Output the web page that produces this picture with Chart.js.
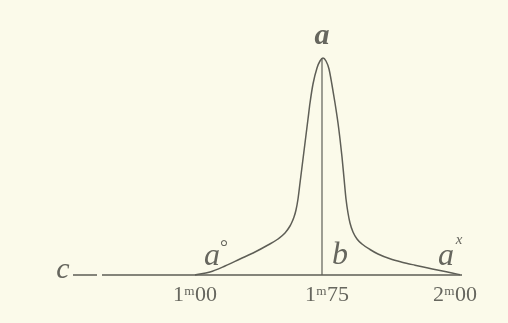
<!DOCTYPE html>
<html>
<head>
<meta charset="utf-8">
<script src="https://cdn.jsdelivr.net/npm/chart.js@4.4.0/dist/chart.umd.min.js"></script>
<style>
  html, body { margin: 0; padding: 0; background: #fbfaea; }
  #wrap { width: 508px; height: 323px; }
</style>
</head>
<body>
<div id="wrap"><canvas id="fig"></canvas></div>
<script>
// positions along the figure (x) and height above the ground line (y)
const curveX = [195, 210, 225, 240, 255, 268, 278, 285, 290, 292, 294, 296, 298, 300, 302, 304, 306, 308, 310, 313, 317, 320, 323,
                326, 329, 332, 335, 338, 340, 342, 344, 346, 348, 350, 353, 357, 362, 370, 378, 390, 402, 415, 428, 440, 452, 460];
const curveY = [0, 3, 9, 16, 23, 30, 36, 42, 49, 53, 58, 65, 76, 92, 108, 124, 140, 156, 172, 191, 207, 214, 217,
                214, 206, 190, 172, 152, 136, 118, 97, 76, 62, 52, 43, 36, 31, 25.5, 21, 16.2, 12.8, 9.8, 7, 4.4, 2, 0.3];
const groundX = [73, 97, 102, 462];
const groundY = [0, 0, 0, 0];
const axisX = [322, 322];
const axisY = [0, 217];
const tickValues = [195, 327, 455];
const tickLabels = ['1ᵐ00', '1ᵐ75', '2ᵐ00'];

// letters written on the figure
const letters = [
    { text: 'a', x: 322, y: 239, bold: true, size: 30 },
    { text: 'c', x: 63, y: 5, size: 30 },
    { text: 'a', x: 212, y: 18, size: 32 },
    { text: '°', x: 224, y: 26, size: 20, plain: true },
    { text: 'b', x: 340, y: 19, size: 32 },
    { text: 'a', x: 446, y: 18, size: 32 },
    { text: 'x', x: 459, y: 35, size: 15 }
];

const ink = '#5e5e56';
const toPts = (xs, ys) => xs.map((x, i) => ({ x: x, y: ys[i] }));

const letterPlugin = {
    id: 'letters',
    afterDatasetsDraw(chart) {
        const ctx = chart.ctx;
        const sx = chart.scales.x, sy = chart.scales.y;
        ctx.save();
        ctx.fillStyle = '#66665e';
        ctx.textAlign = 'center';
        ctx.textBaseline = 'middle';
        letters.forEach(l => {
            const style = l.plain ? '' : 'italic ';
            ctx.font = style + (l.bold ? 'bold ' : '') + l.size + 'px "Liberation Serif", "DejaVu Serif", serif';
            ctx.fillText(l.text, sx.getPixelForValue(l.x), sy.getPixelForValue(l.y));
        });
        ctx.restore();
    }
};

// ground line has a small break near c
const groundPts = toPts(groundX, groundY);
groundPts.splice(2, 0, { x: 99, y: null });

new Chart(document.getElementById('fig'), {
    type: 'scatter',
    data: {
        datasets: [
            {
                data: toPts(curveX, curveY),
                showLine: true,
                borderColor: ink,
                borderWidth: 1.5,
                pointRadius: 0,
                cubicInterpolationMode: 'monotone'
            },
            {
                data: groundPts,
                showLine: true,
                spanGaps: false,
                borderColor: ink,
                borderWidth: 1.3,
                pointRadius: 0
            },
            {
                data: toPts(axisX, axisY),
                showLine: true,
                borderColor: ink,
                borderWidth: 1.2,
                pointRadius: 0
            }
        ]
    },
    options: {
        responsive: true,
        maintainAspectRatio: false,
        animation: false,
        layout: { padding: 0 },
        plugins: {
            legend: { display: false },
            tooltip: { enabled: false }
        },
        scales: {
            x: {
                type: 'linear',
                min: 0,
                max: 508,
                position: { y: 0 },
                grid: { display: false, drawTicks: false },
                border: { display: false },
                afterBuildTicks: (scale) => {
                    scale.ticks = tickValues.map(v => ({ value: v }));
                },
                ticks: {
                    padding: 7,
                    color: '#66665e',
                    font: { family: '"Liberation Serif", "DejaVu Serif", serif', size: 22 },
                    callback: (v) => tickLabels[tickValues.indexOf(v)]
                }
            },
            y: {
                display: false,
                min: -48,
                max: 275
            }
        }
    },
    plugins: [letterPlugin]
});
</script>
</body>
</html>
